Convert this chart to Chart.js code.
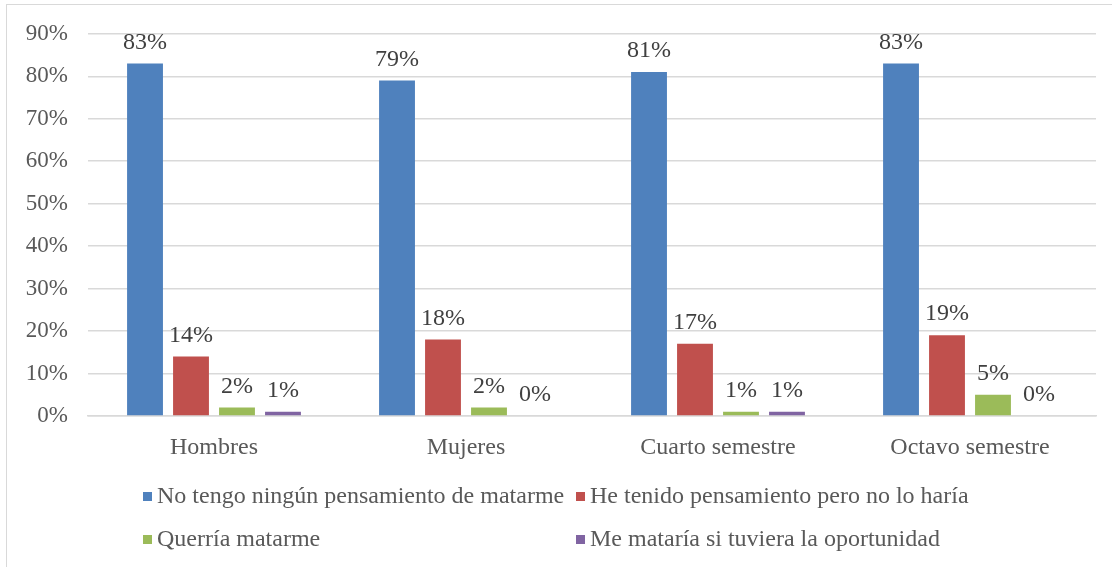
<!DOCTYPE html>
<html>
<head>
<meta charset="utf-8">
<script src="https://cdn.jsdelivr.net/npm/chart.js@4"></script>
<style>
  html, body { margin: 0; padding: 0; background: #fff; }
  .wrap { position: relative; width: 1112px; height: 567px; overflow: hidden; }
  .frame { position: absolute; left: 6px; top: 4px; width: 1120px; height: 600px;
           border-top: 1px solid #d9d9d9; border-left: 1px solid #d9d9d9; }
  canvas { position: absolute; left: 0; top: 0; }
  .legend { position: absolute; left: 0; top: 0; font-family: "Liberation Serif", "Times New Roman", serif;
            font-size: 24px; color: #595959; }
  .legend span.item { position: absolute; white-space: nowrap; line-height: 24px; }
  .legend i { display: inline-block; width: 9px; height: 9px; margin-right: 5px; vertical-align: 2px; }
</style>
</head>
<body>
<div class="wrap">
  <div class="frame"></div>
  <canvas id="myChart" width="1112" height="567"></canvas>
  <div class="legend" id="legend"></div>
</div>
<script>
// categories and series (percent)
const categories = ["Hombres", "Mujeres", "Cuarto semestre", "Octavo semestre"];
const seriesNames = [
  "No tengo ningún pensamiento de matarme",
  "He tenido pensamiento pero no lo haría",
  "Querría matarme",
  "Me mataría si tuviera la oportunidad",
];
const noThoughts = [83, 79, 81, 83];
const thoughtsNoAct = [14, 18, 17, 19];
const wantTo = [2, 2, 1, 5];
const wouldIfChance = [1, 0, 1, 0];
const colors = ["#4f81bd", "#c0504d", "#9bbb59", "#8064a2"];
const yTicks = [0, 10, 20, 30, 40, 50, 60, 70, 80, 90];

const fontFamily = '"Liberation Serif", "Times New Roman", serif';

// draws the value above each bar
const barLabels = {
  id: "barLabels",
  afterDatasetsDraw(chart) {
    const ctx = chart.ctx;
    ctx.save();
    ctx.font = "24px " + fontFamily;
    ctx.fillStyle = "#404040";
    ctx.textAlign = "center";
    ctx.textBaseline = "alphabetic";
    chart.data.datasets.forEach((ds, i) => {
      chart.getDatasetMeta(i).data.forEach((bar, j) => {
        ctx.fillText(ds.data[j] + "%", bar.x, bar.y - 15);
      });
    });
    ctx.restore();
  },
};

const allSeries = [noThoughts, thoughtsNoAct, wantTo, wouldIfChance];

const ctx = document.getElementById("myChart").getContext("2d");
new Chart(ctx, {
  type: "bar",
  data: {
    labels: categories,
    datasets: allSeries.map((vals, i) => ({
      label: seriesNames[i],
      data: vals,
      backgroundColor: colors[i],
      categoryPercentage: 0.73,
      barPercentage: 0.78,
    })),
  },
  options: {
    responsive: false,
    animation: false,
    layout: { padding: { top: 33, right: 16, bottom: 91, left: 0 } },
    plugins: { legend: { display: false }, tooltip: { enabled: false } },
    scales: {
      x: {
        grid: { display: false, drawTicks: false },
        border: { color: "#d9d9d9", width: 1.5 },
        ticks: { color: "#595959", font: { family: fontFamily, size: 24 }, padding: 17 },
        afterFit: (s) => { s.height = 60; },
      },
      y: {
        min: 0,
        max: 90,
        afterBuildTicks: (s) => { s.ticks = yTicks.map((v) => ({ value: v })); },
        grid: { color: "#d9d9d9", lineWidth: 1.5, drawTicks: false },
        border: { display: false },
        ticks: {
          color: "#595959",
          font: { family: fontFamily, size: 23 },
          padding: 20,
          callback: (v) => v + "%",
        },
        afterFit: (s) => { s.width = 88; },
      },
    },
  },
  plugins: [barLabels],
});

// legend laid out in two columns like the original
const legendPos = [[143, 483], [576, 483], [143, 526], [576, 526]];
const legendEl = document.getElementById("legend");
seriesNames.forEach((name, i) => {
  const item = document.createElement("span");
  item.className = "item";
  item.style.left = legendPos[i][0] + "px";
  item.style.top = legendPos[i][1] + "px";
  item.innerHTML = '<i style="background:' + colors[i] + '"></i>' + name;
  legendEl.appendChild(item);
});
</script>
</body>
</html>
